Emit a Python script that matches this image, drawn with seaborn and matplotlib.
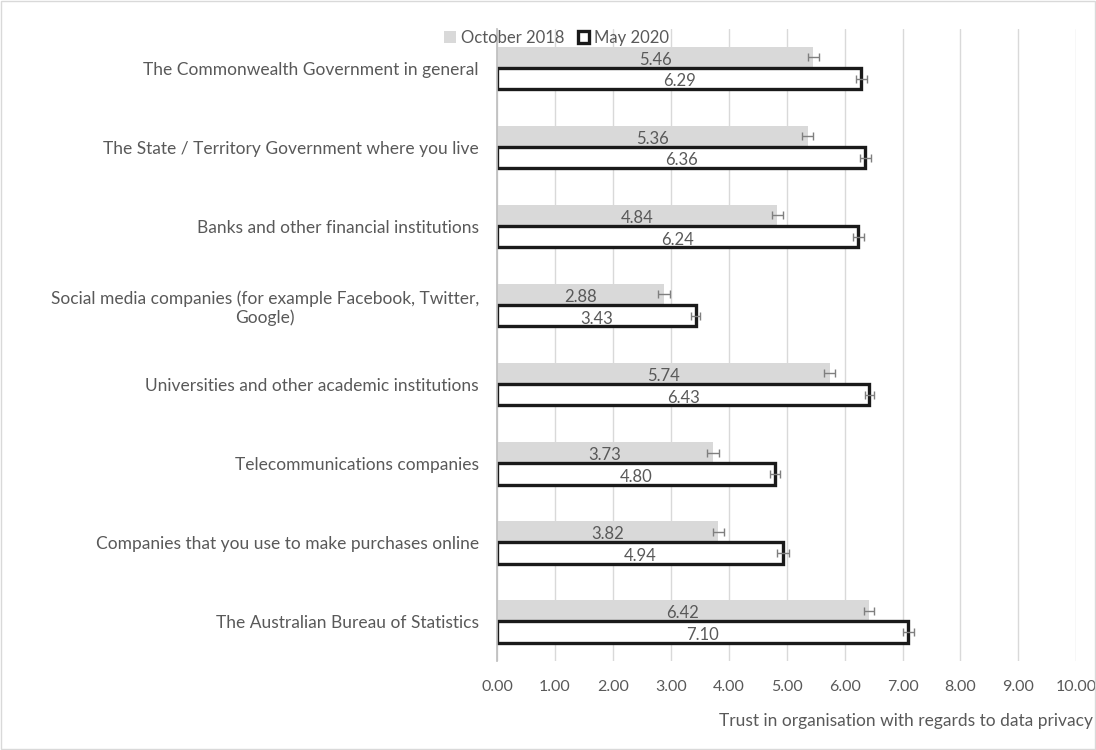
import pandas as pd
import numpy as np
import matplotlib.pyplot as plt
import seaborn as sns
from matplotlib.patches import Rectangle

sns.set_theme(style='white')
plt.rcParams['font.family'] = ['Lato', 'DejaVu Sans']

# 数据
categories = ['The Commonwealth Government in general',
              'The State / Territory Government where you live',
              'Banks and other financial institutions',
              'Social media companies (for example Facebook, Twitter,\nGoogle)',
              'Universities and other academic institutions',
              'Telecommunications companies',
              'Companies that you use to make purchases online',
              'The Australian Bureau of Statistics']
oct2018 = [5.46, 5.36, 4.84, 2.88, 5.74, 3.73, 3.82, 6.42]
may2020 = [6.29, 6.36, 6.24, 3.43, 6.43, 4.80, 4.94, 7.10]
err2018 = [0.09, 0.09, 0.10, 0.10, 0.09, 0.10, 0.10, 0.09]
err2020 = [0.09, 0.09, 0.09, 0.08, 0.08, 0.09, 0.10, 0.09]
series = ['October 2018', 'May 2020']
xticks = np.arange(0, 11, 1)

df = pd.DataFrame({
    'cat': categories * 2,
    'val': oct2018 + may2020,
    'wave': [series[0]] * len(categories) + [series[1]] * len(categories),
})

txt = '#595959'
fig = plt.figure(figsize=(10.96, 7.5), dpi=100)
ax = fig.add_axes([0.4535, 0.119, 0.982 - 0.4535, 0.962 - 0.119])

sns.barplot(data=df, y='cat', x='val', hue='wave', hue_order=series, orient='h',
            palette={series[0]: '#d9d9d9', series[1]: 'white'},
            width=0.54, errorbar=None, ax=ax, saturation=1)

# 边框样式
for p in ax.containers[0]:
    p.set_edgecolor('none')
for p in ax.containers[1]:
    p.set_edgecolor('#1a1a1a')
    p.set_linewidth(2.4)

# 误差线
for cont, errs in zip(ax.containers, [err2018, err2020]):
    xs = [p.get_width() for p in cont]
    ys = [p.get_y() + p.get_height() / 2 for p in cont]
    ax.errorbar(xs, ys, xerr=errs, fmt='none', ecolor='#7f7f7f',
                elinewidth=1, capsize=3, capthick=1, zorder=5)

# 数值标签（略微下移）
for cont in ax.containers[:2]:
    for t in ax.bar_label(cont, fmt='%.2f', label_type='center', color=txt, fontsize=12):
        t.xyann = (0, -2)

ax.set_ylim(len(categories) - 0.5, -0.5)
ax.set_xlim(0, 10)
ax.set_xticks(xticks)
ax.set_xticklabels([f'{t:.2f}' for t in xticks], color=txt, fontsize=11.5)
ax.tick_params(axis='y', labelsize=12.5, labelcolor=txt, length=0, pad=13)
ax.tick_params(axis='x', length=0, pad=14)
ax.xaxis.grid(True, color='#d9d9d9', linewidth=1)
ax.set_axisbelow(True)
for s in ['top', 'right', 'bottom']:
    ax.spines[s].set_visible(False)
ax.spines['left'].set_color('#bfbfbf')
ax.set_xlabel('')
ax.set_ylabel('')
for lab in ax.get_yticklabels():
    lab.set_multialignment('center')

handles, labels = ax.get_legend_handles_labels()
ax.legend_.remove()
handles[0].set_edgecolor('none')
handles[1].set_edgecolor('#1a1a1a')
handles[1].set_linewidth(2.4)
fig.legend(handles, labels, loc='center', bbox_to_anchor=(0.508, 1 - 38 / 750),
           ncol=2, frameon=False, fontsize=12, labelcolor=txt,
           handlelength=0.7, handleheight=0.7, handletextpad=0.3, columnspacing=0.8)

fig.text(0.997, 1 - 721 / 750, 'Trust in organisation with regards to data privacy',
         ha='right', va='center', color=txt, fontsize=12.5)

fig.patches.append(Rectangle((0.001, 0.001), 0.998, 0.998, transform=fig.transFigure,
                             fill=False, edgecolor='#d9d9d9', linewidth=1))

fig.savefig('out.png', dpi=100)
